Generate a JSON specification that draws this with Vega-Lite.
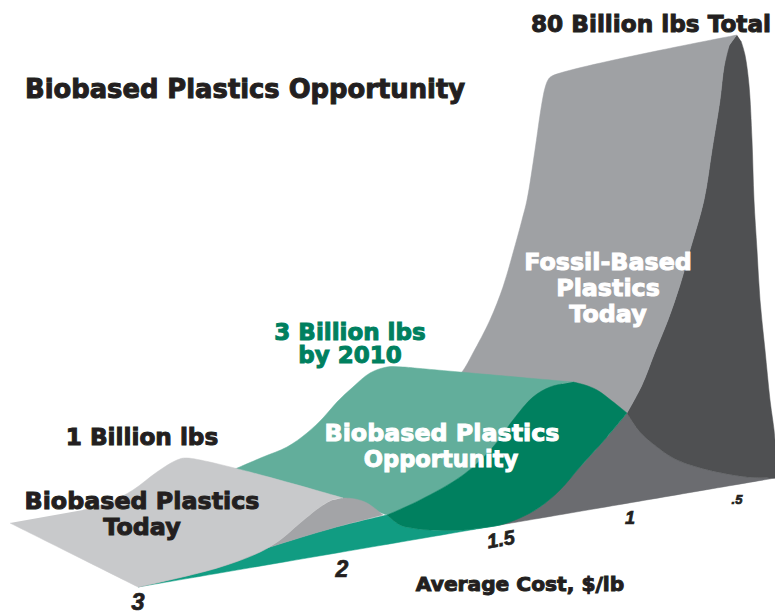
{"$schema":"https://vega.github.io/schema/vega-lite/v6.json","width":775,"height":615,"padding":0,"autosize":{"type":"none"},"background":"white","view":{"stroke":null},
"resolve":{"scale":{"stroke":"independent","size":"independent"}},
"datasets":{"shapes":[
{"s":"floor","i":1,"x":627,"y":413},{"s":"floor","i":2,"x":640,"y":432},{"s":"floor","i":3,"x":657,"y":447},{"s":"floor","i":4,"x":675,"y":459},{"s":"floor","i":5,"x":697,"y":467},{"s":"floor","i":6,"x":722,"y":473},{"s":"floor","i":7,"x":747,"y":477},{"s":"floor","i":8,"x":775,"y":478},{"s":"floor","i":8.5,"x":775,"y":478},{"s":"floor","i":9,"x":500,"y":525},{"s":"floor","i":9.5,"x":500,"y":525},{"s":"floor","i":10,"x":540,"y":507},{"s":"floor","i":11,"x":580,"y":467},{"s":"floor","i":12,"x":607,"y":437},
{"s":"fossilBack","i":1,"x":737,"y":35},{"s":"fossilBack","i":2,"x":729,"y":46},{"s":"fossilBack","i":3,"x":724,"y":67},{"s":"fossilBack","i":4,"x":720,"y":100},{"s":"fossilBack","i":5,"x":712,"y":150},{"s":"fossilBack","i":6,"x":704,"y":200},{"s":"fossilBack","i":7,"x":690,"y":250},{"s":"fossilBack","i":8,"x":680,"y":285},{"s":"fossilBack","i":9,"x":668,"y":320},{"s":"fossilBack","i":10,"x":655,"y":352},{"s":"fossilBack","i":11,"x":642,"y":385},{"s":"fossilBack","i":12,"x":627,"y":413},{"s":"fossilBack","i":12.5,"x":627,"y":413},{"s":"fossilBack","i":13,"x":640,"y":432},{"s":"fossilBack","i":14,"x":657,"y":447},{"s":"fossilBack","i":15,"x":675,"y":459},{"s":"fossilBack","i":16,"x":697,"y":467},{"s":"fossilBack","i":17,"x":722,"y":473},{"s":"fossilBack","i":18,"x":747,"y":477},{"s":"fossilBack","i":19,"x":775,"y":478},{"s":"fossilBack","i":19.5,"x":775,"y":478},{"s":"fossilBack","i":20,"x":775,"y":440},{"s":"fossilBack","i":21,"x":770,"y":400},{"s":"fossilBack","i":22,"x":765,"y":350},{"s":"fossilBack","i":23,"x":760,"y":300},{"s":"fossilBack","i":24,"x":757,"y":250},{"s":"fossilBack","i":25,"x":754,"y":200},{"s":"fossilBack","i":26,"x":752,"y":140},{"s":"fossilBack","i":27,"x":749,"y":85},{"s":"fossilBack","i":28,"x":745,"y":55},{"s":"fossilBack","i":29,"x":741,"y":41},
{"s":"fossilFront","i":1,"x":737,"y":35},{"s":"fossilFront","i":1.5,"x":737,"y":35},{"s":"fossilFront","i":2,"x":552,"y":76},{"s":"fossilFront","i":3,"x":548,"y":80},{"s":"fossilFront","i":4,"x":545,"y":88},{"s":"fossilFront","i":5,"x":543,"y":97},{"s":"fossilFront","i":6,"x":540,"y":115},{"s":"fossilFront","i":7,"x":535,"y":150},{"s":"fossilFront","i":8,"x":527,"y":200},{"s":"fossilFront","i":9,"x":522,"y":220},{"s":"fossilFront","i":10,"x":513,"y":253},{"s":"fossilFront","i":11,"x":503,"y":287},{"s":"fossilFront","i":12,"x":490,"y":320},{"s":"fossilFront","i":12.5,"x":473,"y":353},{"s":"fossilFront","i":13,"x":462,"y":372},{"s":"fossilFront","i":14,"x":440,"y":395},{"s":"fossilFront","i":15,"x":500,"y":450},{"s":"fossilFront","i":16,"x":627,"y":413},{"s":"fossilFront","i":16.5,"x":627,"y":413},{"s":"fossilFront","i":17,"x":642,"y":385},{"s":"fossilFront","i":18,"x":655,"y":352},{"s":"fossilFront","i":19,"x":668,"y":320},{"s":"fossilFront","i":20,"x":680,"y":285},{"s":"fossilFront","i":21,"x":690,"y":250},{"s":"fossilFront","i":22,"x":704,"y":200},{"s":"fossilFront","i":23,"x":712,"y":150},{"s":"fossilFront","i":24,"x":720,"y":100},{"s":"fossilFront","i":25,"x":724,"y":67},{"s":"fossilFront","i":26,"x":729,"y":46},
{"s":"teal","i":1,"x":138,"y":587},{"s":"teal","i":2,"x":500,"y":525},{"s":"teal","i":2.5,"x":500,"y":525},{"s":"teal","i":3,"x":480,"y":528},{"s":"teal","i":4,"x":463,"y":530},{"s":"teal","i":5,"x":430,"y":530},{"s":"teal","i":6,"x":412,"y":528},{"s":"teal","i":7,"x":400,"y":525},{"s":"teal","i":8,"x":387,"y":515},{"s":"teal","i":8.5,"x":387,"y":515},{"s":"teal","i":9,"x":333,"y":528},{"s":"teal","i":10,"x":267,"y":548},{"s":"teal","i":11,"x":200,"y":570},
{"s":"oppFront","i":1,"x":235,"y":469},{"s":"oppFront","i":2,"x":263,"y":457},{"s":"oppFront","i":3,"x":287,"y":447},{"s":"oppFront","i":4,"x":307,"y":433},{"s":"oppFront","i":5,"x":323,"y":418},{"s":"oppFront","i":6,"x":337,"y":402},{"s":"oppFront","i":7,"x":353,"y":387},{"s":"oppFront","i":8,"x":370,"y":373},{"s":"oppFront","i":9,"x":387,"y":367},{"s":"oppFront","i":10,"x":403,"y":367},{"s":"oppFront","i":10.5,"x":420,"y":368.5},{"s":"oppFront","i":11,"x":573,"y":382},{"s":"oppFront","i":11.5,"x":573,"y":382},{"s":"oppFront","i":12,"x":550,"y":387},{"s":"oppFront","i":13,"x":533,"y":397},{"s":"oppFront","i":14,"x":513,"y":420},{"s":"oppFront","i":15,"x":493,"y":447},{"s":"oppFront","i":16,"x":463,"y":475},{"s":"oppFront","i":17,"x":420,"y":500},{"s":"oppFront","i":18,"x":387,"y":515},{"s":"oppFront","i":18.5,"x":387,"y":515},{"s":"oppFront","i":19,"x":345,"y":500},
{"s":"oppBack","i":1,"x":573,"y":382},{"s":"oppBack","i":2,"x":585,"y":385},{"s":"oppBack","i":3,"x":597,"y":390},{"s":"oppBack","i":4,"x":612,"y":401},{"s":"oppBack","i":5,"x":627,"y":413},{"s":"oppBack","i":5.5,"x":627,"y":413},{"s":"oppBack","i":6,"x":607,"y":437},{"s":"oppBack","i":7,"x":580,"y":467},{"s":"oppBack","i":8,"x":560,"y":490},{"s":"oppBack","i":9,"x":540,"y":507},{"s":"oppBack","i":10,"x":520,"y":518},{"s":"oppBack","i":11,"x":500,"y":525},{"s":"oppBack","i":12,"x":480,"y":528},{"s":"oppBack","i":13,"x":463,"y":530},{"s":"oppBack","i":14,"x":430,"y":530},{"s":"oppBack","i":15,"x":412,"y":528},{"s":"oppBack","i":16,"x":400,"y":525},{"s":"oppBack","i":17,"x":387,"y":515},{"s":"oppBack","i":17.5,"x":387,"y":515},{"s":"oppBack","i":18,"x":420,"y":500},{"s":"oppBack","i":19,"x":463,"y":475},{"s":"oppBack","i":20,"x":493,"y":447},{"s":"oppBack","i":21,"x":513,"y":420},{"s":"oppBack","i":22,"x":533,"y":397},{"s":"oppBack","i":23,"x":550,"y":387},{"s":"oppBack","i":24,"x":562,"y":384},
{"s":"todayBack","i":1,"x":343,"y":498},{"s":"todayBack","i":2,"x":355,"y":499},{"s":"todayBack","i":3,"x":367,"y":503},{"s":"todayBack","i":4,"x":383,"y":515},{"s":"todayBack","i":4.5,"x":383,"y":515},{"s":"todayBack","i":5,"x":333,"y":528},{"s":"todayBack","i":6,"x":267,"y":548},{"s":"todayBack","i":7,"x":200,"y":570},{"s":"todayBack","i":8,"x":138,"y":587},{"s":"todayBack","i":8.5,"x":138,"y":587},{"s":"todayBack","i":9,"x":217,"y":568},{"s":"todayBack","i":10,"x":260,"y":552},{"s":"todayBack","i":11,"x":280,"y":540},{"s":"todayBack","i":12,"x":300,"y":523},{"s":"todayBack","i":13,"x":320,"y":507},{"s":"todayBack","i":14,"x":332,"y":500},
{"s":"todayFront","i":1,"x":10,"y":523},{"s":"todayFront","i":1.5,"x":10,"y":523},{"s":"todayFront","i":2,"x":138,"y":587},{"s":"todayFront","i":2.5,"x":138,"y":587},{"s":"todayFront","i":3,"x":217,"y":568},{"s":"todayFront","i":4,"x":260,"y":552},{"s":"todayFront","i":5,"x":280,"y":540},{"s":"todayFront","i":6,"x":300,"y":523},{"s":"todayFront","i":7,"x":320,"y":507},{"s":"todayFront","i":8,"x":332,"y":500},{"s":"todayFront","i":9,"x":343,"y":498},{"s":"todayFront","i":9.5,"x":343,"y":498},{"s":"todayFront","i":10,"x":187,"y":458},{"s":"todayFront","i":11,"x":177,"y":460},{"s":"todayFront","i":12,"x":157,"y":472},{"s":"todayFront","i":13,"x":133,"y":490},{"s":"todayFront","i":14,"x":110,"y":502},{"s":"todayFront","i":15,"x":83,"y":510}
],
"labels":[
{"t":"Biobased Plastics Opportunity","r":"title","x":245,"y":98},
{"t":"80 Billion lbs Total","r":"head","x":651,"y":32},
{"t":"1 Billion lbs","r":"head","x":142,"y":445},
{"t":"Biobased Plastics","r":"dark","x":142,"y":509},
{"t":"Today","r":"dark","x":142,"y":535},
{"t":"Fossil-Based","r":"white","x":608,"y":270},
{"t":"Plastics","r":"white","x":608,"y":296},
{"t":"Today","r":"white","x":608,"y":322},
{"t":"Biobased Plastics","r":"white","x":442,"y":441},
{"t":"Opportunity","r":"opp","x":441,"y":467},
{"t":"3 Billion lbs","r":"green","x":350,"y":340},
{"t":"by 2010","r":"green","x":350,"y":363},
{"t":"Average Cost, $/lb","r":"axis","x":520,"y":591}
],
"ticks":[
{"t":"3","x":138,"y":610},{"t":"2","x":342,"y":577},{"t":"1.5","x":502,"y":546},{"t":"1","x":630,"y":524},{"t":".5","x":737,"y":504}
]},
"encoding":{"x":{"field":"x","type":"quantitative","scale":{"domain":[0,775],"nice":false,"zero":false},"axis":null},"y":{"field":"y","type":"quantitative","scale":{"domain":[615,0],"nice":false,"zero":false},"axis":null}},
"layer":[
{"data":{"name":"shapes"},"mark":{"type":"line","strokeWidth":0.5,"clip":true,"interpolate":"catmull-rom"},
"encoding":{"order":{"field":"i","type":"quantitative"},
"fill":{"field":"s","type":"nominal","legend":null,"scale":{"domain":["floor","fossilBack","fossilFront","teal","oppFront","oppBack","todayBack","todayFront"],"range":["#6b6c70","#4f5052","#9fa1a4","#119c82","#62ae9b","#00805f","#a3a4a7","#c8c9cb"]}},
"stroke":{"field":"s","type":"nominal","legend":null,"scale":{"domain":["floor","fossilBack","fossilFront","teal","oppFront","oppBack","todayBack","todayFront"],"range":["#6b6c70","#4f5052","#9fa1a4","#119c82","#62ae9b","#00805f","#a3a4a7","#c8c9cb"]}}}},
{"data":{"name":"labels"},"mark":{"type":"text","font":"DejaVu Sans","fontWeight":"bold","baseline":"alphabetic","align":"center","strokeWidth":1},
"encoding":{"text":{"field":"t"},
"color":{"field":"r","type":"nominal","legend":null,"scale":{"domain":["title","head","dark","white","opp","green","axis"],"range":["#231f20","#231f20","#231f20","#ffffff","#ffffff","#00805f","#231f20"]}},
"stroke":{"field":"r","type":"nominal","legend":null,"scale":{"domain":["title","head","dark","white","opp","green","axis"],"range":["#231f20","#231f20","#231f20","#ffffff","#ffffff","#00805f","#231f20"]}},
"size":{"field":"r","type":"nominal","legend":null,"scale":{"type":"ordinal","domain":["title","head","dark","white","opp","green","axis"],"range":[25.8,23.2,23.8,23.8,22.6,23,20.2]}}}},
{"data":{"name":"ticks"},"mark":{"type":"text","font":"Liberation Sans","fontWeight":"bold","fontStyle":"italic","baseline":"alphabetic","align":"center","color":"#231f20","stroke":"#231f20","strokeWidth":0.7},
"encoding":{"text":{"field":"t"},
"angle":{"field":"t","type":"nominal","legend":null,"scale":{"type":"ordinal","domain":["3","2","1.5","1",".5"],"range":[0,0,350,0,0]}},
"size":{"field":"t","type":"nominal","legend":null,"scale":{"type":"ordinal","domain":["3","2","1.5","1",".5"],"range":[24,23,20,18,13]}}}}
]}
